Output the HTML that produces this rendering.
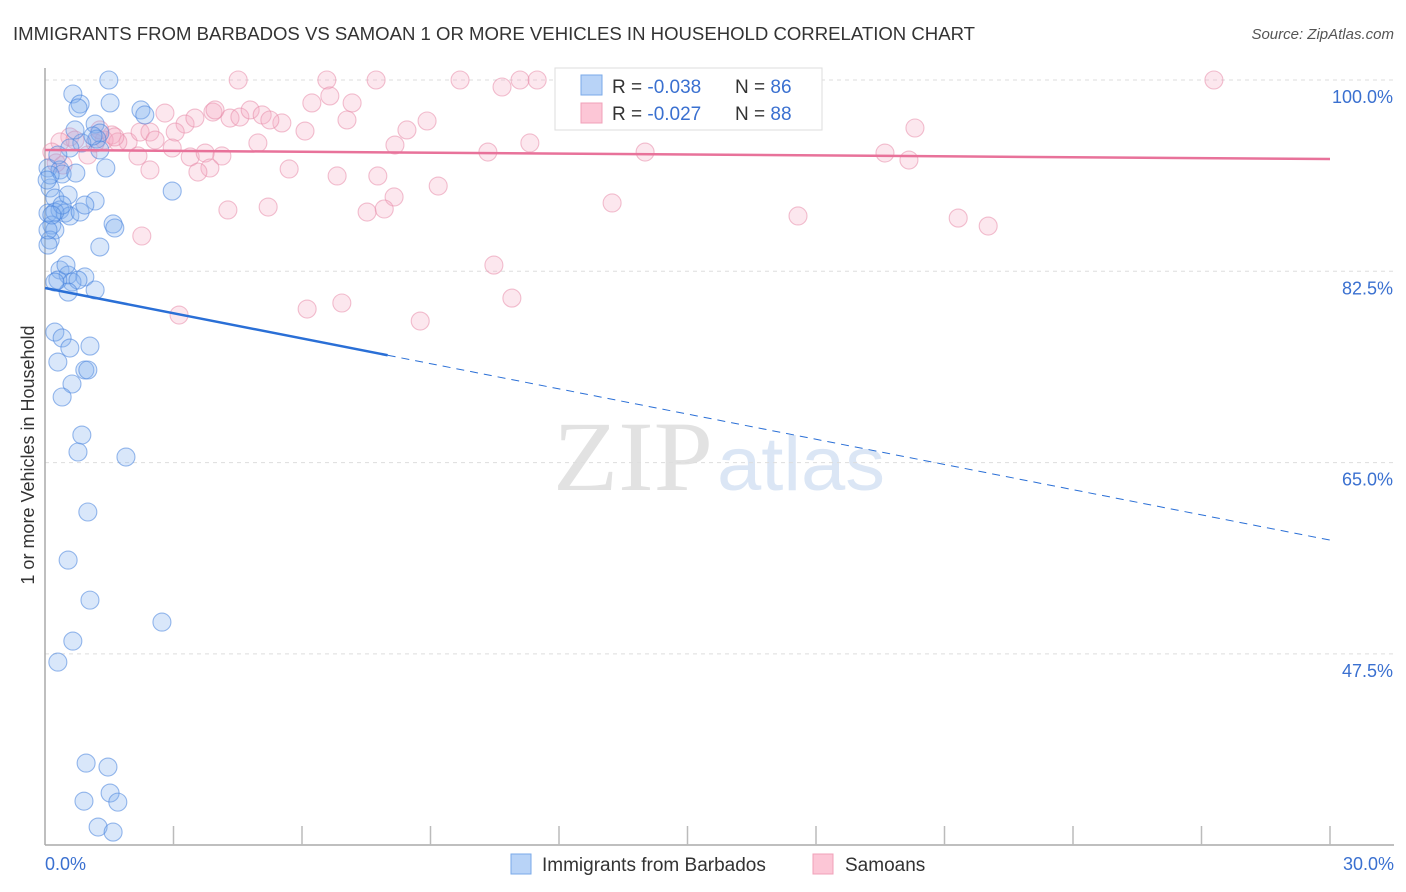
<!DOCTYPE html>
<html><head><meta charset="utf-8"><style>
body{margin:0;background:#fff;}
svg{display:block;font-family:"Liberation Sans",sans-serif;}
</style></head><body>
<svg id="chart" width="1406" height="892" viewBox="0 0 1406 892">
<text x="13" y="40" font-size="18" fill="#333" textLength="962" lengthAdjust="spacingAndGlyphs">IMMIGRANTS FROM BARBADOS VS SAMOAN 1 OR MORE VEHICLES IN HOUSEHOLD CORRELATION CHART</text>
<text x="1394" y="39" font-size="15" fill="#555" font-style="italic" text-anchor="end">Source: ZipAtlas.com</text>
<g>
<text x="553" y="490" font-family="Liberation Serif,serif" font-size="100" fill="#e2e2e2" textLength="160" lengthAdjust="spacingAndGlyphs">ZIP</text>
<text x="717" y="490" font-size="76" fill="#dbe6f5" textLength="168" lengthAdjust="spacingAndGlyphs">atlas</text>
</g>
<g id="grid"></g>
<g id="axes"></g>
<g id="pts"></g>
<g id="trend"></g>
<text transform="translate(34,455) rotate(-90)" font-size="18" fill="#333" text-anchor="middle">1 or more Vehicles in Household</text>
<g>
<rect x="555" y="68" width="267" height="62" fill="#fff" stroke="#ddd"/>
<rect x="581" y="75" width="21" height="20" fill="#b8d3f7" stroke="#7aa9e8"/>
<rect x="581" y="103" width="21" height="20" fill="#fcc6d6" stroke="#f0a0b8"/>
<text x="612" y="93" font-size="19" fill="#333">R = <tspan fill="#3a70d0">-0.038</tspan></text>
<text x="735" y="93" font-size="19" fill="#333">N = <tspan fill="#3a70d0">86</tspan></text>
<text x="612" y="120" font-size="19" fill="#333">R = <tspan fill="#3a70d0">-0.027</tspan></text>
<text x="735" y="120" font-size="19" fill="#333">N = <tspan fill="#3a70d0">88</tspan></text>
</g>
<g>
<rect x="511" y="854" width="20" height="20" fill="#b8d3f7" stroke="#7aa9e8"/>
<text x="542" y="871" font-size="19" fill="#333">Immigrants from Barbados</text>
<rect x="813" y="854" width="20" height="20" fill="#fcc6d6" stroke="#f0a0b8"/>
<text x="845" y="871" font-size="19" fill="#333">Samoans</text>
</g>
</svg>
<script>
const yTicks=[100,82.5,65,47.5];
const yTickLabels=["100.0%","82.5%","65.0%","47.5%"];
const xLabels=["0.0%","30.0%"];
const barbadosX=[1.49,0.65,0.82,0.77,1.52,2.24,2.33,1.17,1.28,1.21,0.86,1.28,0.07,0.35,0.40,0.72,1.42,0.12,0.23,0.54,1.17,2.97,0.07,0.35,0.47,0.58,0.16,0.23,0.12,0.07,1.28,1.59,1.63,0.35,0.54,0.93,0.63,0.30,0.77,1.17,0.54,0.23,0.23,0.40,1.05,0.58,0.30,0.93,1.0,0.63,0.40,0.86,0.77,1.89,1.0,0.54,1.05,2.73,0.65,0.30,0.96,1.47,1.52,0.91,1.7,1.24,1.59,0.12,0.23,0.40,0.82,0.58,0.05,0.07,0.70,0.49,1.12,0.30,0.16,0.93];
const barbadosY=[100,98.72,97.8,97.44,97.9,97.26,96.8,95.97,95.15,94.6,94.24,93.6,91.95,91.77,91.4,91.49,91.95,90.12,89.2,89.48,88.93,89.84,87.83,88.11,87.83,87.56,86.73,86.28,85.36,84.9,84.72,86.83,86.46,82.62,82.16,81.98,81.52,81.7,81.7,80.79,80.6,81.52,76.94,76.4,75.66,75.48,74.2,73.47,73.47,72.19,71.0,67.52,65.97,65.51,60.48,56.08,52.42,50.41,48.67,46.75,37.51,37.15,34.77,34.03,33.94,31.66,31.2,91.31,87.92,88.56,87.92,93.78,90.85,86.28,95.43,83.07,94.88,93.14,87.65,88.56];
const samoanX=[4.51,6.58,7.73,9.69,11.09,11.49,12.33,27.29,6.65,6.23,7.17,10.67,2.80,3.27,3.50,3.92,4.32,4.55,4.79,5.07,5.53,6.07,7.05,8.45,8.92,11.32,10.34,14.01,19.61,20.17,20.31,1.94,2.22,2.45,1.56,1.38,1.70,1.17,0.58,0.70,0.35,0.16,0.42,1.0,3.04,2.57,2.97,2.17,2.45,3.39,3.74,4.13,3.85,3.57,4.97,5.70,6.82,7.77,8.17,9.18,8.15,7.52,7.92,4.27,5.21,13.24,17.58,21.32,22.02,2.26,10.48,10.90,6.93,6.12,8.76,3.13,0.26,1.28,1.63,3.97,5.25];
const samoanY=[100,100,100,100,100,100,100,100,98.54,97.9,97.9,99.36,96.98,95.97,96.52,97.07,96.52,96.61,97.26,96.8,96.07,95.33,96.34,95.43,96.25,94.24,93.41,93.41,93.32,92.68,95.61,94.33,95.24,95.24,94.97,94.51,94.33,94.24,94.79,94.51,94.33,93.41,92.22,93.14,95.24,94.51,93.78,93.05,91.77,92.96,93.32,93.05,91.95,91.58,94.24,91.86,91.22,91.22,94.05,90.3,89.3,87.92,88.2,88.11,88.38,88.75,87.56,87.37,86.64,85.73,83.07,80.05,79.6,79.05,77.95,78.5,92.41,95.43,94.79,97.26,96.34];
const barbadosTrend=[80.97,57.91];
const barbadosSolidEnd=8.0;
const samoanTrend=[93.6,92.77];

const NS="http://www.w3.org/2000/svg";
const X0=45,X1=1330,Y0=80,YB=845;
function xs(v){return X0+(v/30)*(X1-X0);}
function ys(v){return Y0+(100-v)*(191.3/17.5);}
function mk(tag,attrs,parent){const e=document.createElementNS(NS,tag);for(const k in attrs)e.setAttribute(k,attrs[k]);parent.appendChild(e);return e;}
const grid=document.getElementById('grid'),axes=document.getElementById('axes'),pts=document.getElementById('pts'),trend=document.getElementById('trend');
yTicks.forEach((t,i)=>{
  const l=mk('line',{x1:X0,x2:1394,y1:ys(t),y2:ys(t),stroke:'#ddd','stroke-dasharray':'4,4'},grid);
  
  
  const tx=mk('text',{x:1393,y:ys(t)+23,'font-size':18,fill:'#3a70d0','text-anchor':'end'},axes);
  tx.textContent=yTickLabels[i];
  
  
});
let a=mk('line',{x1:X0,x2:X0,y1:68,y2:YB,stroke:'#aaa','stroke-width':1.5},axes);


a=mk('line',{x1:X0,x2:1394,y1:YB,y2:YB,stroke:'#aaa','stroke-width':1.5},axes);


for(let i=1;i<=10;i++){
  const t=mk('line',{x1:xs(i*3),x2:xs(i*3),y1:YB-19,y2:YB,stroke:'#bbb','stroke-width':1.5},axes);
  
  
}
[[0,'start',X0],[30,'end',1394]].forEach((d,i)=>{
  const t=mk('text',{x:d[2],y:870,'font-size':18,fill:'#3a70d0','text-anchor':d[1]},axes);
  t.textContent=xLabels[i];
  
  
});
function drawPts(X,Y,fill,stroke,name){
  X.forEach((x,i)=>{
    const c=mk('circle',{cx:xs(x),cy:ys(Y[i]),r:9,fill:fill,stroke:stroke,'stroke-width':1.1},pts);
    
    
  });
}
drawPts(samoanX,samoanY,'rgba(246,170,195,0.28)','rgba(232,140,170,0.55)','samoan-point');
drawPts(barbadosX,barbadosY,'rgba(130,175,240,0.3)','rgba(70,130,220,0.55)','barbados-point');
function lineAt(tr,x){return tr[0]+(tr[1]-tr[0])*x/30;}
let ln=mk('line',{x1:xs(0),y1:ys(lineAt(samoanTrend,0)),x2:xs(30),y2:ys(lineAt(samoanTrend,30)),stroke:'#e8729a','stroke-width':2.5},trend);


ln=mk('line',{x1:xs(0),y1:ys(lineAt(barbadosTrend,0)),x2:xs(barbadosSolidEnd),y2:ys(lineAt(barbadosTrend,barbadosSolidEnd)),stroke:'#2a6fd6','stroke-width':2.5},trend);


ln=mk('line',{x1:xs(barbadosSolidEnd),y1:ys(lineAt(barbadosTrend,barbadosSolidEnd)),x2:xs(30),y2:ys(lineAt(barbadosTrend,30)),stroke:'#2a6fd6','stroke-width':1,'stroke-dasharray':'8,6'},trend);


</script>
</body></html>
